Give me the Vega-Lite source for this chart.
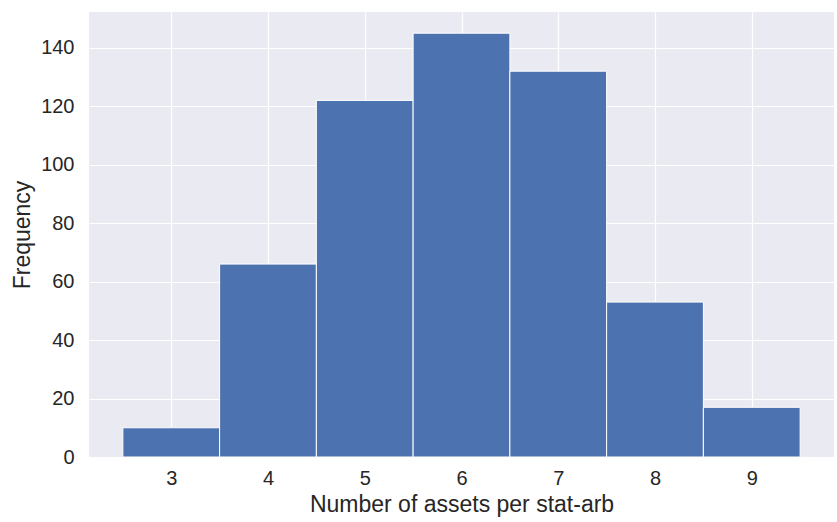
{
  "$schema": "https://vega.github.io/schema/vega-lite/v6.json",
  "width": 745,
  "height": 445,
  "autosize": {"type": "none"},
  "padding": {"left": 89, "top": 12, "right": 3, "bottom": 65},
  "background": "white",
  "config": {
    "view": {"fill": "#EAEAF2", "stroke": null},
    "font": "Liberation Sans",
    "axis": {
      "domain": false,
      "ticks": false,
      "grid": true,
      "gridColor": "white",
      "gridWidth": 1.2,
      "labelFont": "Liberation Sans",
      "labelFontSize": 20,
      "labelColor": "#262626",
      "titleFont": "Liberation Sans",
      "titleFontSize": 23,
      "titleFontWeight": "normal",
      "titleColor": "#262626"
    }
  },
  "data": {
    "values": [
      {"bin_start": 2.5, "bin_end": 3.5, "count": 10},
      {"bin_start": 3.5, "bin_end": 4.5, "count": 66},
      {"bin_start": 4.5, "bin_end": 5.5, "count": 122},
      {"bin_start": 5.5, "bin_end": 6.5, "count": 145},
      {"bin_start": 6.5, "bin_end": 7.5, "count": 132},
      {"bin_start": 7.5, "bin_end": 8.5, "count": 53},
      {"bin_start": 8.5, "bin_end": 9.5, "count": 17}
    ]
  },
  "mark": {"type": "rect", "fill": "#4C72B0", "stroke": "white", "strokeWidth": 1},
  "encoding": {
    "x": {
      "field": "bin_start",
      "type": "quantitative",
      "scale": {"domain": [2.15, 9.85], "nice": false, "zero": false},
      "axis": {"values": [3, 4, 5, 6, 7, 8, 9], "title": "Number of assets per stat-arb", "labelPadding": 11, "titlePadding": 5}
    },
    "x2": {"field": "bin_end"},
    "y": {
      "field": "count",
      "type": "quantitative",
      "scale": {"domain": [0, 152.25], "nice": false},
      "axis": {"values": [0, 20, 40, 60, 80, 100, 120, 140], "title": "Frequency", "labelPadding": 15, "titlePadding": 6}
    },
    "y2": {"datum": 0}
  }
}
